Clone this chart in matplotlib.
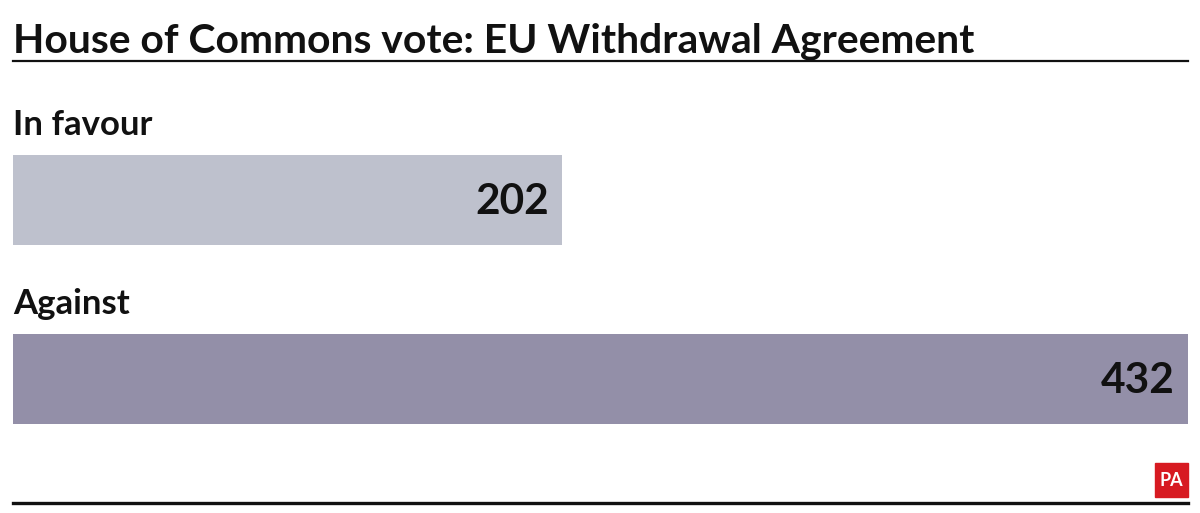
import matplotlib
matplotlib.use("Agg")
import matplotlib.pyplot as plt
from matplotlib.patches import Rectangle
from matplotlib.lines import Line2D

title = "House of Commons vote: EU Withdrawal Agreement"
categories = ["In favour", "Against"]
values = [202, 432]
colors = ["#bec1cd", "#938fa8"]

W, H = 1200, 513
fig = plt.figure(figsize=(W / 100, H / 100), dpi=100)
FONT = "Lato"

def fx(x):
    return x / W

def fy(y):
    return 1 - y / H

# axes spanning bars
left, right, top, bottom = 13, 1188, 155, 424
ax = fig.add_axes([fx(left), fy(bottom), (right - left) / W, (bottom - top) / H])
ypos = list(range(len(values)))
bh = 0.504
ax.barh(ypos, values, height=bh, color=colors, align="center")
ax.set_xlim(0, max(values))
ax.set_ylim(len(values) - 1 + bh / 2, -bh / 2)
ax.axis("off")

for i, (c, v) in enumerate(zip(categories, values)):
    ax.annotate(f"{v}", xy=(v, i), xycoords="data", xytext=(-13, -2),
                textcoords="offset pixels", ha="right", va="center",
                fontsize=30.5, fontweight="bold", family=FONT, color="#111111")
    ax.annotate(c, xy=(0, i - bh / 2), xycoords="data", xytext=(0, 20),
                textcoords="offset pixels", ha="left", va="baseline",
                fontsize=25, fontweight="bold", family=FONT, color="#111111")

fig.text(fx(13), fy(52), title, ha="left", va="baseline", fontsize=29.4,
         fontweight="bold", family=FONT, color="#111111")

fig.add_artist(Line2D([fx(13), fx(1188)], [fy(61), fy(61)], color="#111111", lw=1.6))
fig.add_artist(Line2D([fx(13), fx(1188)], [fy(503), fy(503)], color="#111111", lw=2.4))

fig.add_artist(Rectangle((fx(1155), fy(497)), 33 / W, 34 / H, color="#d71a21",
                         transform=fig.transFigure))
fig.text(fx(1171.5), fy(480), "PA", ha="center", va="center", fontsize=13,
         fontweight="bold", color="white", family=FONT)

fig.savefig("out.png", dpi=100)
